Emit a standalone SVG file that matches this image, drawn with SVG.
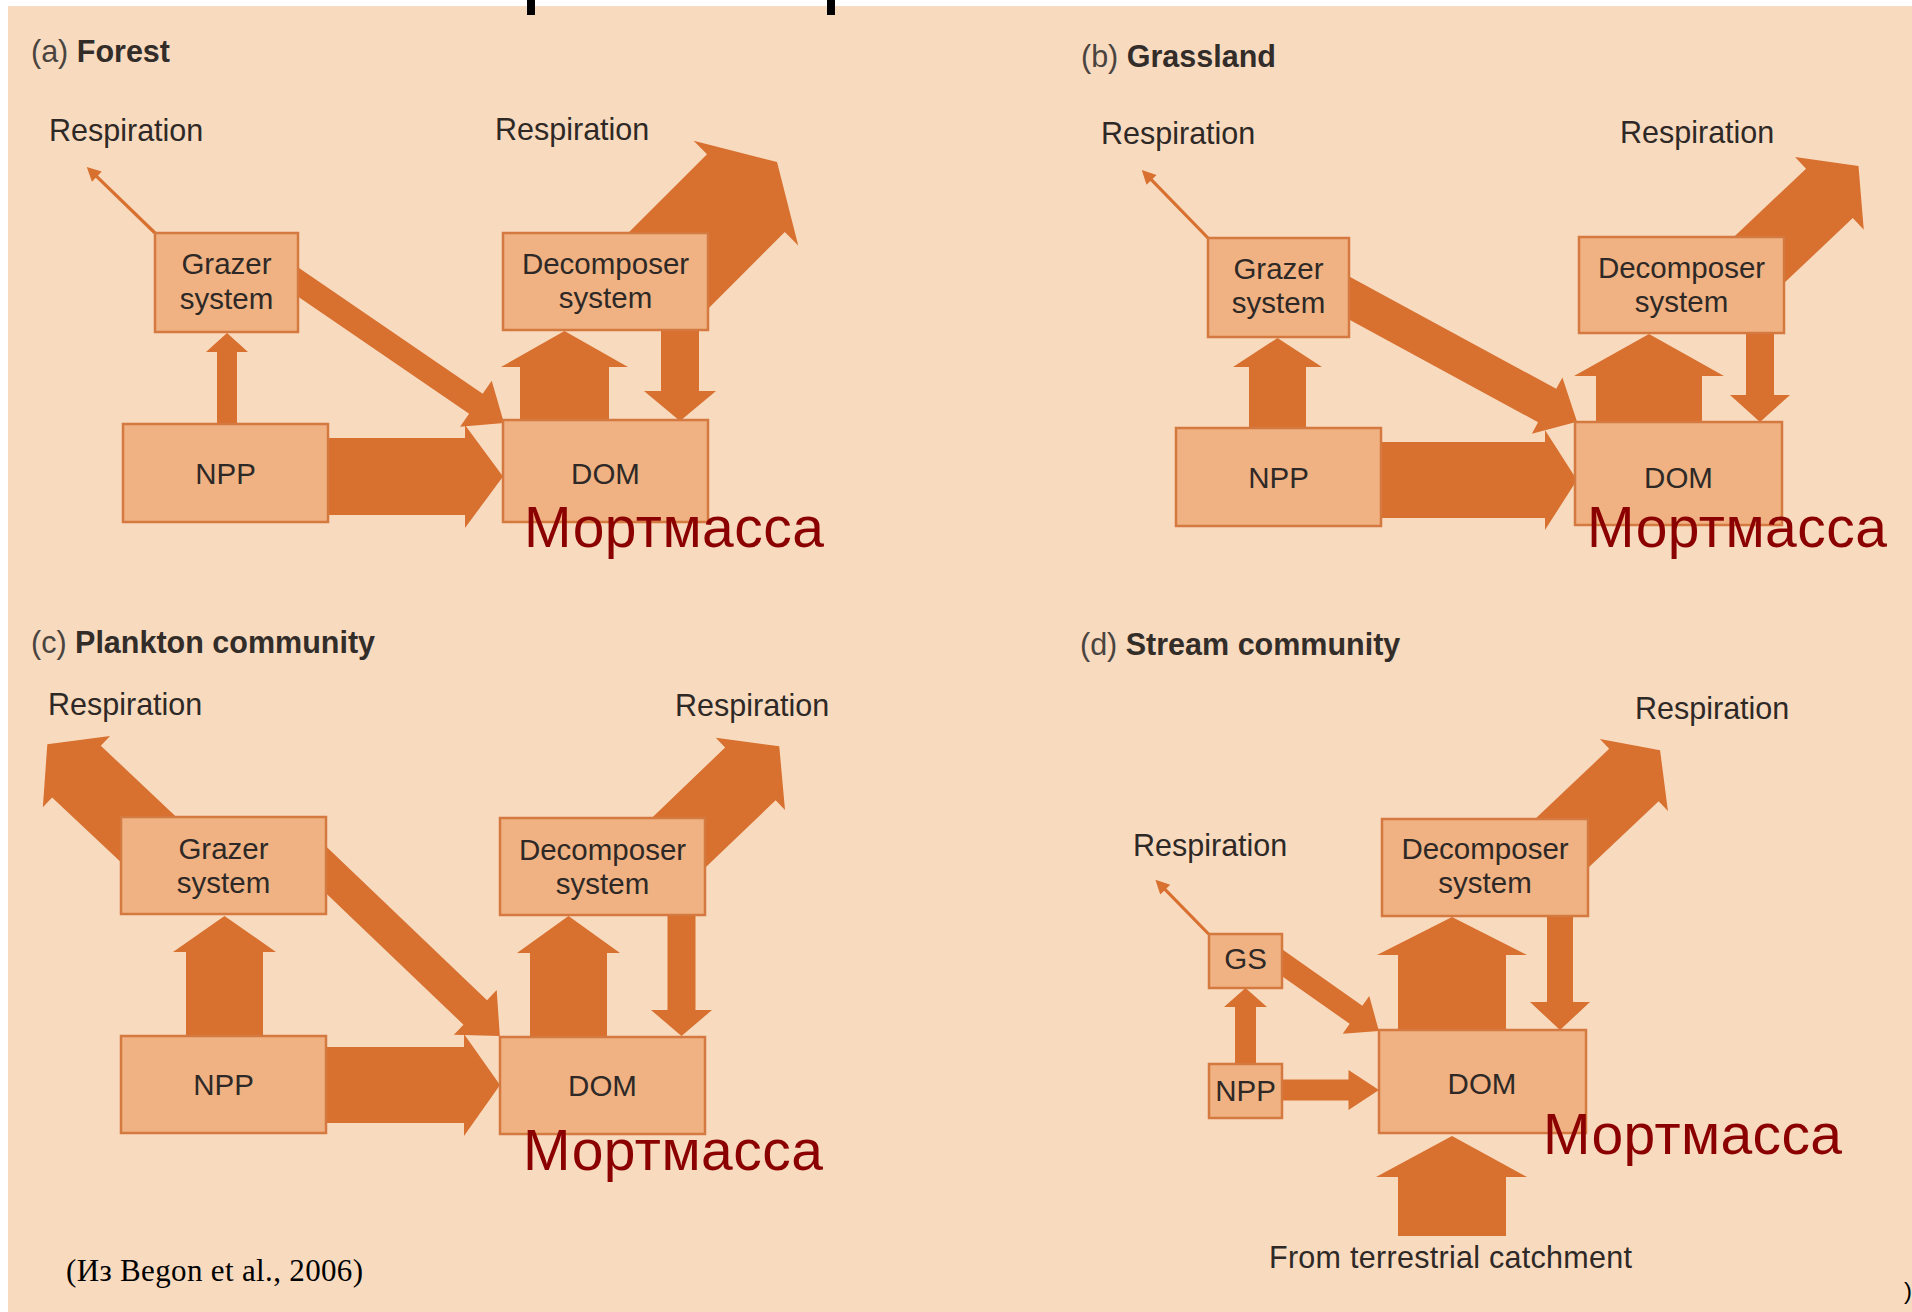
<svg xmlns="http://www.w3.org/2000/svg" width="1912" height="1312" viewBox="0 0 1912 1312">
<style>
.bg{fill:#F8DABF}
.box{fill:#F0B283;stroke:#D47A40;stroke-width:2.5}
.arr{fill:#D8702F}
.lbl{font-family:"Liberation Sans",Arial,sans-serif;font-size:29.5px;fill:#2E2926;text-anchor:middle}
.resp{font-family:"Liberation Sans",Arial,sans-serif;font-size:30.5px;fill:#2E2926}
.ttl{font-family:"Liberation Sans",Arial,sans-serif;font-size:30.5px;font-weight:bold;fill:#332D2A}
.ttl tspan.p{font-weight:normal;fill:#4A4440}
.mort{font-family:"Liberation Sans",Arial,sans-serif;font-size:57px;fill:#8B0000}
.cite{font-family:"Liberation Serif","Times New Roman",serif;font-size:31px;fill:#000}
</style>
<rect x="0" y="0" width="1912" height="1312" fill="#FFFFFF"/>
<rect class="bg" x="8" y="6" width="1904" height="1306"/>
<rect x="527" y="0" width="8" height="15" fill="#000"/>
<rect x="827" y="0" width="8" height="15" fill="#000"/>

<g id="connectors">
  <!-- (a) Forest -->
  <polygon class="arr" transform="translate(155 233) rotate(-135.9)" points="0,-1.6 81,-1.6 81,-7 95,0 81,7 81,1.6 0,1.6"/>
  <polygon class="arr" points="217,426 217,352 206,352 227,333 248,352 237,352 237,426"/>
  <polygon class="arr" points="326,438 465,438 465,425 503,476.5 465,528 465,515 326,515"/>
  <polygon class="arr" transform="translate(282 271) rotate(34.4)" points="0,-12 235,-12 235,-28 269,0 235,28 235,12 0,12"/>
  <polygon class="arr" points="520,425 520,367 501,367 564.5,331 628,367 609,367 609,425"/>
  <polygon class="arr" points="661,325 661,391 644,391 680,421 716,391 699,391 699,325"/>
  <polygon class="arr" transform="translate(654 285) rotate(-45)" points="0,-55 130,-55 130,-74 174,0 130,74 130,55 0,55"/>
  <!-- (b) Grassland -->
  <polygon class="arr" transform="translate(1208 238) rotate(-134.2)" points="0,-1.6 81,-1.6 81,-7 95,0 81,7 81,1.6 0,1.6"/>
  <polygon class="arr" points="1249,430 1249,367 1233,367 1277.5,338 1322,367 1306,367 1306,430"/>
  <polygon class="arr" points="1379,442 1545,442 1545,430 1577,480 1545,530 1545,518 1379,518"/>
  <polygon class="arr" transform="translate(1331.4 288.4) rotate(28.5)" points="0,-19 245.5,-19 245.5,-32 279.5,0 245.5,32 245.5,19 0,19"/>
  <polygon class="arr" points="1596,427 1596,376 1574,376 1649,334 1724,376 1702,376 1702,427"/>
  <polygon class="arr" points="1746,328 1746,395 1730,395 1760,422 1790,395 1774,395 1774,328"/>
  <polygon class="arr" transform="translate(1749.5 269) rotate(-43.4)" points="0,-34 110,-34 110,-50 150,0 110,50 110,34 0,34"/>
  <!-- (c) Plankton community -->
  <polygon class="arr" transform="translate(156.5 847) rotate(-136.7)" points="0,-35.5 110,-35.5 110,-49 150,0 110,49 110,35.5 0,35.5"/>
  <polygon class="arr" transform="translate(671 850) rotate(-43.8)" points="0,-36.5 110,-36.5 110,-50 150,0 110,50 110,36.5 0,36.5"/>
  <polygon class="arr" points="186,1040 186,952 173,952 224.5,916 276,952 263,952 263,1040"/>
  <polygon class="arr" transform="translate(312.6 857) rotate(43.7)" points="0,-17 225,-17 225,-31 259,0 225,31 225,17 0,17"/>
  <polygon class="arr" points="323,1047 464,1047 464,1034 500,1085 464,1136 464,1123 323,1123"/>
  <polygon class="arr" points="530,1040 530,953 517,953 568.5,916 620,953 607,953 607,1040"/>
  <polygon class="arr" points="667.5,912 667.5,1010 651,1010 681.5,1036 712,1010 695.5,1010 695.5,912"/>
  <!-- (d) Stream community -->
  <polygon class="arr" transform="translate(1208.6 934) rotate(-134.4)" points="0,-1.6 62,-1.6 62,-7 76,0 62,7 62,1.6 0,1.6"/>
  <polygon class="arr" points="1235,1066 1235,1007 1224,1007 1245.5,988 1267,1007 1256,1007 1256,1066"/>
  <polygon class="arr" transform="translate(1274.3 957.2) rotate(35.2)" points="0,-11 100,-11 100,-23 128,0 100,23 100,11 0,11"/>
  <polygon class="arr" points="1279,1079.5 1348.5,1079.5 1348.5,1070 1379,1090 1348.5,1110 1348.5,1100.5 1279,1100.5"/>
  <polygon class="arr" points="1398,1033 1398,955 1377,955 1452,917 1527,955 1506,955 1506,1033"/>
  <polygon class="arr" points="1547,913 1547,1002 1530,1002 1560,1030 1590,1002 1573,1002 1573,913"/>
  <polygon class="arr" points="1398,1236 1398,1177 1376,1177 1452,1136 1527,1177 1506,1177 1506,1236"/>
  <polygon class="arr" transform="translate(1554 850.6) rotate(-43.4)" points="0,-36 110,-36 110,-49.5 146,0 110,49.5 110,36 0,36"/>
</g>

<!-- Panel (a) -->
<g id="title-a"><text class="ttl" x="31" y="62"><tspan class="p">(a)</tspan> Forest</text></g>
<g id="resp-a-left"><text class="resp" x="49" y="141">Respiration</text></g>
<g id="resp-a-right"><text class="resp" x="495" y="140">Respiration</text></g>
<g id="grazer-a"><rect class="box" x="155" y="233" width="143" height="99"/><text class="lbl" x="226.5" y="274">Grazer</text><text class="lbl" x="226.5" y="309">system</text></g>
<g id="decomposer-a"><rect class="box" x="503" y="233" width="205" height="97"/><text class="lbl" x="605.5" y="274">Decomposer</text><text class="lbl" x="605.5" y="308">system</text></g>
<g id="npp-a"><rect class="box" x="123" y="424" width="205" height="98"/><text class="lbl" x="225.5" y="484">NPP</text></g>
<g id="dom-a"><rect class="box" x="503" y="420" width="205" height="102"/><text class="lbl" x="605.5" y="484">DOM</text></g>
<g id="mort-a"><text class="mort" x="524" y="547" textLength="300">Мортмасса</text></g>

<!-- Panel (b) -->
<g id="title-b"><text class="ttl" x="1081" y="67"><tspan class="p">(b)</tspan> Grassland</text></g>
<g id="resp-b-left"><text class="resp" x="1101" y="144">Respiration</text></g>
<g id="resp-b-right"><text class="resp" x="1620" y="143">Respiration</text></g>
<g id="grazer-b"><rect class="box" x="1208" y="238" width="141" height="99"/><text class="lbl" x="1278.5" y="279">Grazer</text><text class="lbl" x="1278.5" y="313">system</text></g>
<g id="decomposer-b"><rect class="box" x="1579" y="237" width="205" height="96"/><text class="lbl" x="1681.5" y="278">Decomposer</text><text class="lbl" x="1681.5" y="312">system</text></g>
<g id="npp-b"><rect class="box" x="1176" y="428" width="205" height="98"/><text class="lbl" x="1278.5" y="488">NPP</text></g>
<g id="dom-b"><rect class="box" x="1575" y="422" width="207" height="103"/><text class="lbl" x="1678.5" y="488">DOM</text></g>
<g id="mort-b"><text class="mort" x="1587" y="547" textLength="300">Мортмасса</text></g>

<!-- Panel (c) -->
<g id="title-c"><text class="ttl" x="31" y="653"><tspan class="p">(c)</tspan> Plankton community</text></g>
<g id="resp-c-left"><text class="resp" x="48" y="715">Respiration</text></g>
<g id="resp-c-right"><text class="resp" x="675" y="716">Respiration</text></g>
<g id="grazer-c"><rect class="box" x="121" y="817" width="205" height="97"/><text class="lbl" x="223.5" y="859">Grazer</text><text class="lbl" x="223.5" y="893">system</text></g>
<g id="decomposer-c"><rect class="box" x="500" y="818" width="205" height="97"/><text class="lbl" x="602.5" y="860">Decomposer</text><text class="lbl" x="602.5" y="894">system</text></g>
<g id="npp-c"><rect class="box" x="121" y="1036" width="205" height="97"/><text class="lbl" x="223.5" y="1095">NPP</text></g>
<g id="dom-c"><rect class="box" x="500" y="1037" width="205" height="97"/><text class="lbl" x="602.5" y="1096">DOM</text></g>
<g id="mort-c"><text class="mort" x="523" y="1170" textLength="300">Мортмасса</text></g>

<!-- Panel (d) -->
<g id="title-d"><text class="ttl" x="1080" y="655"><tspan class="p">(d)</tspan> Stream community</text></g>
<g id="resp-d-left"><text class="resp" x="1133" y="856">Respiration</text></g>
<g id="resp-d-right"><text class="resp" x="1635" y="719">Respiration</text></g>
<g id="gs-d"><rect class="box" x="1209" y="934" width="73" height="54"/><text class="lbl" x="1245.5" y="969">GS</text></g>
<g id="npp-d"><rect class="box" x="1209" y="1064" width="73" height="54"/><text class="lbl" x="1245.5" y="1101">NPP</text></g>
<g id="decomposer-d"><rect class="box" x="1382" y="819" width="206" height="97"/><text class="lbl" x="1485" y="859">Decomposer</text><text class="lbl" x="1485" y="893">system</text></g>
<g id="dom-d"><rect class="box" x="1379" y="1030" width="207" height="103"/><text class="lbl" x="1482" y="1094">DOM</text></g>
<g id="terrestrial-d"><text class="resp" x="1269" y="1268" textLength="363">From terrestrial catchment</text></g>
<g id="mort-d"><text class="mort" x="1543" y="1154" textLength="299">Мортмасса</text></g>

<g id="citation"><text class="cite" x="66" y="1281" textLength="297">(Из Begon et al., 2006)</text></g>
<text x="1904" y="1299" font-family="Liberation Sans, Arial, sans-serif" font-size="24" fill="#000">)</text>
</svg>
